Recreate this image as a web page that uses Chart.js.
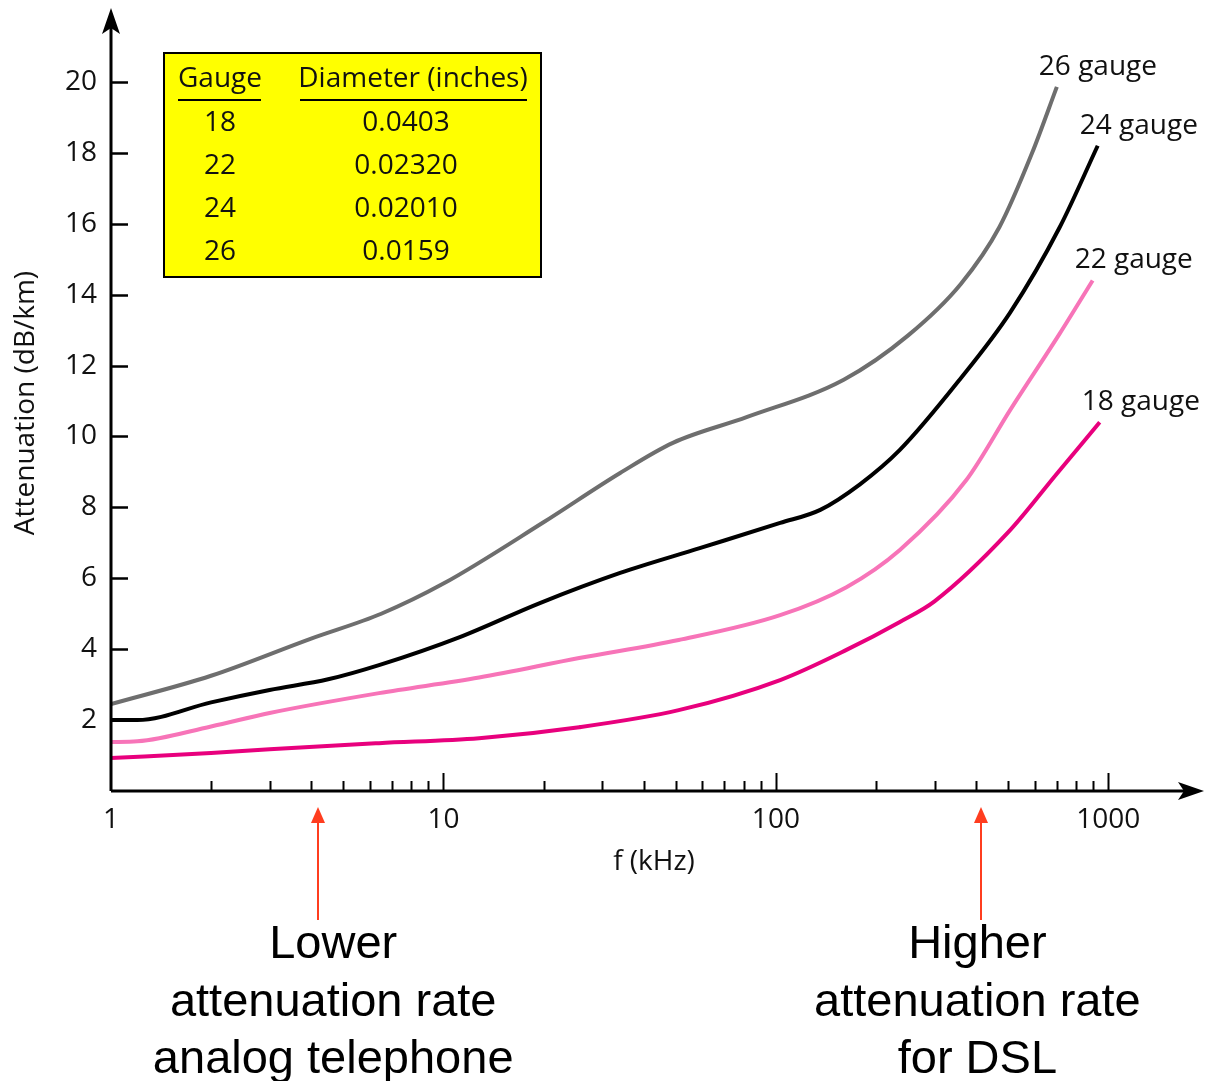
<!DOCTYPE html>
<html>
<head>
<meta charset="utf-8">
<script src="https://cdn.jsdelivr.net/npm/chart.js@4.4.1/dist/chart.umd.min.js"></script>
<style>
  body { margin: 0; background: #fff; }
  canvas { display: block; }
</style>
</head>
<body>
<canvas id="chart" width="1210" height="1081"></canvas>
<script>
// values (f in kHz, attenuation in dB/km)
const freq26 = [1, 2, 4, 6.5, 10, 20, 34, 49, 82, 160, 250, 360, 470, 590, 700];
const att26 = [2.45, 3.25, 4.3, 5.0, 5.85, 7.58, 8.97, 9.82, 10.55, 11.6, 12.85, 14.3, 15.9, 18.0, 19.86];

const freq24 = [1, 1.2, 2, 3, 4.5, 6.4, 11.2, 19.5, 34, 59, 103, 136, 179, 236, 357, 507, 714, 929];
const att24 = [2.0, 2.0, 2.5, 2.85, 3.15, 3.55, 4.34, 5.3, 6.15, 6.85, 7.56, 7.93, 8.65, 9.62, 11.6, 13.5, 15.9, 18.2];

const freq22 = [1, 1.2, 2, 3, 6.4, 12.8, 25.6, 51, 103, 163, 236, 374, 507, 714, 897];
const att22 = [1.38, 1.4, 1.82, 2.2, 2.76, 3.2, 3.75, 4.26, 4.96, 5.75, 6.8, 8.77, 10.75, 12.9, 14.4];

const freq18 = [1, 2, 3, 6.4, 12.8, 25.6, 51, 103, 163, 236, 300, 500, 700, 942];
const att18 = [0.93, 1.07, 1.18, 1.35, 1.49, 1.8, 2.28, 3.13, 3.98, 4.77, 5.35, 7.3, 8.95, 10.4];

const seriesNames = ["26 gauge", "24 gauge", "22 gauge", "18 gauge"];
const seriesColors = ["#6e6e6e", "#000000", "#f774b8", "#e8007d"];

const yTicks = [2, 4, 6, 8, 10, 12, 14, 16, 18, 20];
const xTicks = [1, 10, 100, 1000];

const tableGauge = ["18", "22", "24", "26"];
const tableDiameter = ["0.0403", "0.02320", "0.02010", "0.0159"];

const markLow = 4.2;
const markHigh = 415;
const textLow = ["Lower", "attenuation rate", "analog telephone"];
const textHigh = ["Higher", "attenuation rate", "for DSL"];

const FONT = "'Open Sans', 'Noto Sans', sans-serif";

function toPoints(xs, ys) {
    return xs.map((x, i) => ({ x: x, y: ys[i] }));
}

function arrowHead(ctx, tipX, tipY, dir) {
    // dir: "up" or "right"
    ctx.beginPath();
    if (dir === "up") {
        ctx.moveTo(tipX, tipY);
        ctx.lineTo(tipX + 9, tipY + 26);
        ctx.lineTo(tipX, tipY + 20);
        ctx.lineTo(tipX - 9, tipY + 26);
    } else {
        ctx.moveTo(tipX, tipY);
        ctx.lineTo(tipX - 26, tipY - 9);
        ctx.lineTo(tipX - 20, tipY);
        ctx.lineTo(tipX - 26, tipY + 9);
    }
    ctx.closePath();
    ctx.fill();
}

const decor = {
    id: "decor",
    afterDraw(chart) {
        const ctx = chart.ctx;
        const area = chart.chartArea;
        const xs = chart.scales.x;
        const ys = chart.scales.y;
        ctx.save();

        // axes with arrows
        ctx.strokeStyle = "#000";
        ctx.fillStyle = "#000";
        ctx.lineWidth = 3;
        ctx.beginPath();
        ctx.moveTo(area.left, area.bottom);
        ctx.lineTo(1190, area.bottom);
        ctx.moveTo(area.left, area.bottom);
        ctx.lineTo(area.left, 22);
        ctx.stroke();
        arrowHead(ctx, area.left, 8, "up");
        arrowHead(ctx, 1204, area.bottom, "right");

        // y tick marks (inside)
        ctx.lineWidth = 2.5;
        ctx.beginPath();
        yTicks.forEach(v => {
            const py = Math.round(ys.getPixelForValue(v)) + 0.5;
            ctx.moveTo(area.left, py);
            ctx.lineTo(area.left + 17, py);
        });
        ctx.stroke();

        // x tick marks (major + minor), pointing up
        ctx.lineWidth = 2;
        ctx.beginPath();
        [1, 10, 100].forEach(dec => {
            for (let m = 2; m <= 10; m++) {
                const px = Math.round(xs.getPixelForValue(dec * m)) + 0.5;
                const len = m === 10 ? 18 : 10;
                ctx.moveTo(px, area.bottom);
                ctx.lineTo(px, area.bottom - len);
            }
        });
        ctx.stroke();

        // axis titles
        ctx.fillStyle = "#111";
        ctx.font = "28px " + FONT;
        ctx.textAlign = "center";
        ctx.textBaseline = "middle";
        ctx.fillText("f (kHz)", 654, 862);
        ctx.save();
        ctx.translate(26, 403);
        ctx.rotate(-Math.PI / 2);
        ctx.fillText("Attenuation (dB/km)", 0, 0);
        ctx.restore();

        // curve labels at the end of each line
        ctx.font = "28px " + FONT;
        ctx.textAlign = "left";
        chart.data.datasets.forEach((ds, i) => {
            const pts = chart.getDatasetMeta(i).data;
            const last = pts[pts.length - 1];
            ctx.fillText(seriesNames[i], last.x - 18, last.y - 20);
        });

        // gauge table
        ctx.fillStyle = "#ffff00";
        ctx.fillRect(164, 53, 377, 224);
        ctx.lineWidth = 2;
        ctx.strokeRect(164, 53, 377, 224);
        ctx.fillStyle = "#111";
        ctx.textAlign = "center";
        ctx.fillText("Gauge", 220, 79);
        ctx.fillText("Diameter (inches)", 413, 79);
        ctx.beginPath();
        ctx.moveTo(178, 100);
        ctx.lineTo(261, 100);
        ctx.moveTo(300, 100);
        ctx.lineTo(527, 100);
        ctx.stroke();
        tableGauge.forEach((g, i) => {
            const ty = 123 + i * 43;
            ctx.fillText(g, 220, ty);
            ctx.fillText(tableDiameter[i], 406, ty);
        });

        // red markers under the axis
        ctx.strokeStyle = "#ff3d1f";
        ctx.fillStyle = "#ff3d1f";
        ctx.lineWidth = 2;
        [markLow, markHigh].forEach(v => {
            const px = Math.round(xs.getPixelForValue(v));
            ctx.beginPath();
            ctx.moveTo(px, 820);
            ctx.lineTo(px, 920);
            ctx.stroke();
            ctx.beginPath();
            ctx.moveTo(px, 807);
            ctx.lineTo(px + 7, 823);
            ctx.lineTo(px - 7, 823);
            ctx.closePath();
            ctx.fill();
        });

        // bottom notes
        ctx.fillStyle = "#000";
        ctx.font = "47px 'Liberation Sans', Arial, sans-serif";
        ctx.textBaseline = "alphabetic";
        const lowX = xs.getPixelForValue(markLow) + 15;
        const highX = xs.getPixelForValue(markHigh) - 4;
        [958, 1016, 1073].forEach((by, i) => {
            ctx.fillText(textLow[i], lowX, by);
            ctx.fillText(textHigh[i], highX, by);
        });

        ctx.restore();
    }
};

const datasets = [
    toPoints(freq26, att26),
    toPoints(freq24, att24),
    toPoints(freq22, att22),
    toPoints(freq18, att18)
].map((pts, i) => ({
    label: seriesNames[i],
    data: pts,
    borderColor: seriesColors[i],
    borderWidth: 4,
    pointRadius: 0,
    fill: false,
    cubicInterpolationMode: "monotone"
}));

new Chart(document.getElementById("chart").getContext("2d"), {
    type: "line",
    data: { datasets: datasets },
    options: {
        responsive: false,
        animation: false,
        layout: { padding: { top: 11, right: 9, left: 0, bottom: 0 } },
        plugins: { legend: { display: false }, tooltip: { enabled: false } },
        scales: {
            x: {
                type: "logarithmic",
                min: 1,
                max: 1900,
                grid: { display: false, drawTicks: false },
                border: { display: false },
                afterBuildTicks: scale => { scale.ticks = xTicks.map(v => ({ value: v })); },
                afterFit: scale => {
                    scale.height = 290;
                    scale.paddingLeft = 0;
                    scale.paddingRight = 0;
                },
                ticks: {
                    autoSkip: false,
                    maxRotation: 0,
                    padding: 12,
                    color: "#111",
                    font: { family: FONT, size: 28 },
                    callback: v => String(v)
                }
            },
            y: {
                min: 0,
                max: 22,
                grid: { display: false, drawTicks: false },
                border: { display: false },
                afterBuildTicks: scale => { scale.ticks = yTicks.map(v => ({ value: v })); },
                afterFit: scale => {
                    scale.width = 111;
                    scale.paddingTop = 0;
                    scale.paddingBottom = 0;
                },
                ticks: {
                    padding: 14,
                    color: "#111",
                    font: { family: FONT, size: 28 }
                }
            }
        }
    },
    plugins: [decor]
});
</script>
</body>
</html>
